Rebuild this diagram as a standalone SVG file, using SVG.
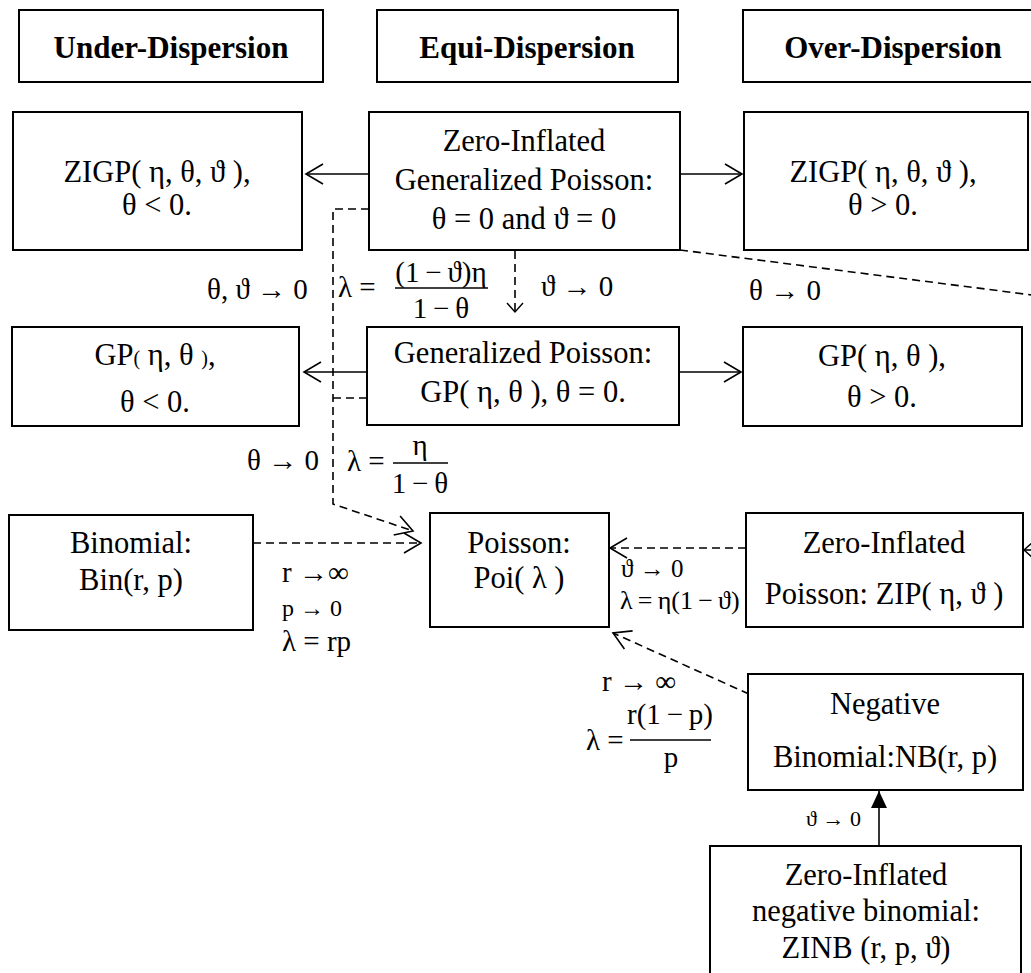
<svg xmlns="http://www.w3.org/2000/svg" width="1031" height="973" viewBox="0 0 1031 973">
<style>
  .box { fill: #fff; stroke: #000; stroke-width: 2; }
  .t { font-family: "Liberation Serif", "DejaVu Serif", serif; font-size: 30.5px; fill: #000; text-anchor: middle; }
  .h { font-family: "Liberation Serif", "DejaVu Serif", serif; font-size: 31px; font-weight: bold; fill: #000; text-anchor: middle; }
  .m { font-family: "Liberation Serif", "DejaVu Serif", serif; font-size: 29px; fill: #000; }
  .mc { text-anchor: middle; }
  .solid { fill: none; stroke: #000; stroke-width: 1.6; }
  .dash { fill: none; stroke: #000; stroke-width: 1.6; stroke-dasharray: 8 5; }
  .fl { stroke: #000; stroke-width: 1.3; }
</style>
<defs>
  <marker id="chev" viewBox="0 0 20 22" refX="18" refY="11" markerWidth="20" markerHeight="22" markerUnits="userSpaceOnUse" orient="auto">
    <path d="M1,1 L18,11 L1,21" fill="none" stroke="#000" stroke-width="1.6"/>
  </marker>
  <marker id="chevs" viewBox="0 0 12 18" refX="10" refY="9" markerWidth="12" markerHeight="18" markerUnits="userSpaceOnUse" orient="auto">
    <path d="M1,1 L10,9 L1,17" fill="none" stroke="#000" stroke-width="1.4"/>
  </marker>
  <marker id="tri" viewBox="0 0 18 18" refX="17" refY="9" markerWidth="18" markerHeight="18" markerUnits="userSpaceOnUse" orient="auto">
    <path d="M0,1 L17,9 L0,17 Z" fill="#000"/>
  </marker>
</defs>

<g id="connectors">
  <path class="solid" d="M369,174 L306,174" marker-end="url(#chev)"/>
  <path class="solid" d="M680,174 L742,174" marker-end="url(#chev)"/>
  <path class="solid" d="M367,372 L304,372" marker-end="url(#chev)"/>
  <path class="solid" d="M679,372 L741,372" marker-end="url(#chev)"/>
  <path class="dash" d="M369,209 L333,209 L333,504 L413,531" marker-end="url(#chev)"/>
  <path class="dash" d="M367,398 L333,398"/>
  <path class="dash" d="M515,251 L515,312" marker-end="url(#chevs)"/>
  <path class="dash" d="M680,250 L1040,296"/>
  <path class="dash" d="M253,543 L421,543" marker-end="url(#chev)"/>
  <path class="dash" d="M746,548 L610,548" marker-end="url(#chev)"/>
  <path class="dash" d="M749,694 L613,633" marker-end="url(#chev)"/>
  <path class="solid" d="M879,846 L879,791" marker-end="url(#tri)"/>
  <path class="solid" d="M1040,550 L1024,550" marker-end="url(#chevs)"/>
</g>

<g id="h-under"><rect class="box" x="19" y="10" width="304" height="72"/><text class="h" x="171" y="58">Under-Dispersion</text></g>
<g id="h-equi"><rect class="box" x="377" y="10" width="301" height="72"/><text class="h" x="527" y="58">Equi-Dispersion</text></g>
<g id="h-over"><rect class="box" x="743" y="10" width="300" height="72"/><text class="h" x="893" y="58">Over-Dispersion</text></g>

<g id="zigp-under"><rect class="box" x="13" y="112" width="289" height="138"/>
  <text class="t" x="157" y="182">ZIGP( η, θ, ϑ ),</text>
  <text class="t" x="157" y="215">θ &lt; 0.</text></g>
<g id="zigp-equi"><rect class="box" x="369" y="112" width="311" height="138"/>
  <text class="t" x="524" y="151">Zero-Inflated</text>
  <text class="t" x="524" y="190">Generalized Poisson:</text>
  <text class="t" x="524" y="229">θ = 0 and ϑ = 0</text></g>
<g id="zigp-over"><rect class="box" x="744" y="112" width="284" height="138"/>
  <text class="t" x="883" y="182">ZIGP( η, θ, ϑ ),</text>
  <text class="t" x="883" y="215">θ &gt; 0.</text></g>

<g id="gp-under"><rect class="box" x="12" y="327" width="287" height="99"/>
  <text class="t" x="155" y="365">GP<tspan style="font-size:20px">(</tspan> η, θ <tspan style="font-size:20px">)</tspan>,</text>
  <text class="t" x="155" y="412">θ &lt; 0.</text></g>
<g id="gp-equi"><rect class="box" x="367" y="327" width="312" height="98"/>
  <text class="t" x="523" y="363">Generalized Poisson:</text>
  <text class="t" x="523" y="402">GP( η, θ ),  θ = 0.</text></g>
<g id="gp-over"><rect class="box" x="743" y="327" width="279" height="99"/>
  <text class="t" x="882" y="366">GP( η, θ ),</text>
  <text class="t" x="882" y="407">θ &gt; 0.</text></g>

<g id="binomial"><rect class="box" x="9" y="515" width="244" height="115"/>
  <text class="t" x="131" y="553">Binomial:</text>
  <text class="t" x="131" y="590">Bin(r, p)</text></g>
<g id="poisson"><rect class="box" x="430" y="513" width="179" height="114"/>
  <text class="t" x="519" y="553">Poisson:</text>
  <text class="t" x="519" y="588">Poi( λ )</text></g>
<g id="zip"><rect class="box" x="746" y="513" width="277" height="114"/>
  <text class="t" x="884" y="553">Zero-Inflated</text>
  <text class="t" x="884" y="604">Poisson: ZIP( η, ϑ )</text></g>
<g id="nb"><rect class="box" x="748" y="674" width="275" height="116"/>
  <text class="t" x="885" y="714">Negative</text>
  <text class="t" x="885" y="767">Binomial:NB(r, p)</text></g>
<g id="zinb"><rect class="box" x="710" y="846" width="311" height="140"/>
  <text class="t" x="866" y="885">Zero-Inflated</text>
  <text class="t" x="866" y="921">negative binomial:</text>
  <text class="t" x="866" y="958">ZINB (r, p, ϑ)</text></g>

<g id="labels">
  <text class="m" x="207" y="299">θ, ϑ → 0</text>
  <text class="m" x="338" y="297">λ =</text>
  <text class="m mc" x="441" y="282">(1&#8201;−&#8201;ϑ)η</text>
  <line class="fl" x1="395" y1="288" x2="488" y2="288"/>
  <text class="m mc" x="441" y="318">1&#8201;−&#8201;θ</text>
  <text class="m" x="541" y="296">ϑ → 0</text>
  <text class="m" x="749" y="300">θ → 0</text>

  <text class="m" x="247" y="470">θ → 0</text>
  <text class="m" x="347" y="471">λ =</text>
  <text class="m mc" x="420" y="455">η</text>
  <line class="fl" x1="393" y1="463" x2="448" y2="463"/>
  <text class="m mc" x="420" y="493">1&#8201;−&#8201;θ</text>

  <text class="m" x="282" y="582">r →∞</text>
  <text class="m" x="282" y="616" style="font-size:24px">p → 0</text>
  <text class="m" x="282" y="651">λ = rp</text>

  <text class="m" x="621" y="577" style="font-size:25px">ϑ → 0</text>
  <text class="m" x="620" y="609" style="font-size:26px">λ&#8201;=&#8201;η(1&#8201;−&#8201;ϑ)</text>

  <text class="m" x="602" y="691">r → ∞</text>
  <text class="m" x="586" y="750">λ =</text>
  <text class="m mc" x="670" y="724">r(1&#8201;−&#8201;p)</text>
  <line class="fl" x1="630" y1="740" x2="711" y2="740"/>
  <text class="m mc" x="671" y="767">p</text>

  <text class="m" x="806" y="826" style="font-size:22px">ϑ → 0</text>
</g>
</svg>
